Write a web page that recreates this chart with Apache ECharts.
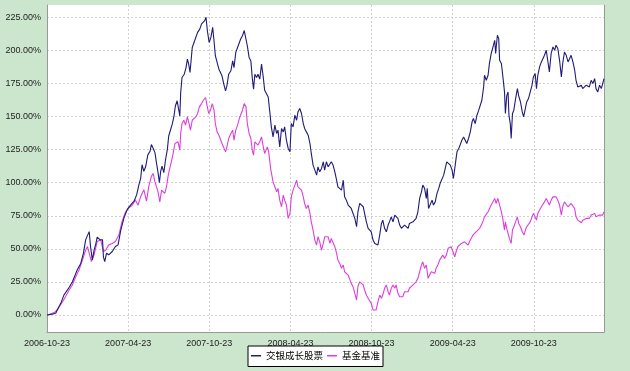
<!DOCTYPE html>
<html>
<head>
<meta charset="utf-8">
<script src="https://cdn.jsdelivr.net/npm/echarts@6/dist/echarts.min.js"></script>
<style>
html,body{margin:0;padding:0;background:#cce6cd;}
#chart{width:630px;height:371px;}
</style>
</head>
<body>
<div id="chart"></div>
<script>
// ---- data (x = days since start date, y = cumulative return in %) ----
const startDate = '2006-10-23';
const xTickLabels = ['2006-10-23','2007-04-23','2007-10-23','2008-04-23','2008-10-23','2009-04-23','2009-10-23'];
const seriesNames = ['交银成长股票','基金基准'];

const fundDays = [
0,8,14,20,23,31,38,42,50,57,65,68,76,82,87,91,95,98,102,106,110,113,119,125,127,130,134,139,147,154,160,166,173,181,188,196,202,207,211,214,218,222,227,232,235,239,
243,247,250,253,256,259,263,267,271,274,278,282,286,289,293,297,299,301,304,309,313,316,319,322,327,331,335,339,344,348,352,355,358,361,365,369,373,376,379,384,387,391,394,398,402,405,409,414,418,421,425,429,433,436,440,444,448,451,455,459,462,465,468,472,475,479,483,487,
490,498,502,505,509,513,517,520,524,528,532,535,539,543,547,550,554,558,562,565,569,573,577,580,584,588,592,595,599,603,607,610,614,618,622,625,629,633,637,640,644,648,652,655,659,663,667,670,674,678,682,685,689,693,697,700,704,708,712,715,719,723,727,730,734,738,
741,745,749,753,756,760,764,768,771,775,779,783,786,790,794,798,801,805,809,813,816,820,824,828,831,835,839,843,846,850,854,856,859,863,867,870,874,878,882,885,889,893,897,900,904,908,912,915,919,923,927,930,934,938,942,945,949,953,957,960,964,968,972,975,979,983,
985,989,993,996,1000,1004,1008,1010,1014,1017,1019,1023,1026,1030,1032,1035,1038,1040,1043,1045,1048,1051,1055,1059,1062,1066,1070,1073,1077,1080,1084,1088,1092,1095,1099,1102,1105,1109,1113,1116,1120,1124,1128,1131,1135,1139,1143,1146,1150,1154,1158,1161,1165,1169,1173,1176,1180,1184,1188,1191,1195,1199,1203,1206,1210,1214,1218,1221,1225,1229,1233,1236,1240,1244,1248,1251,1254
];
const fundValues = [
0,0.5,0.8,1.5,3.8,8.8,15,14,21,25,31.5,34,39,46.7,56.8,60,63,51.8,41.7,49,54,58.8,57,56.8,44,40.4,46.7,45.5,48,51.8,53,64,73,80,83,86,91,98.5,103.5,113.6,108.6,112,121,123.7,128.8,126,
122.7,113.9,107.6,100,108.8,112.6,107.6,117.7,125.2,135.3,134,144.2,150.5,158,161.9,160.6,150.5,168.2,179.5,182,187,193.4,189.6,183.3,202.2,206,207.3,213.6,216.1,220,221.2,222.5,225,215,206,209.8,217.4,207.3,196,189.6,185.8,187,180.8,174.5,169.4,173.2,182,184.6,192,187,198.5,202.2,203.5,208.6,211,215,213.7,203.5,194.7,192,179.5,170.7,182,179.5,182,178.3,189.6,179.5,
169.9,164.8,152.3,142.2,134.6,143.5,137.2,139.7,127.1,141,138.4,142.2,132.1,125.9,123.3,144.7,142.2,151,147.2,153.5,156.1,152.3,144.7,141,138.4,135.9,129.6,122.1,113.3,109.5,105.7,112,108.2,110.8,115.8,109.5,115.8,112,113.3,115.8,113.3,108.2,101.9,96.9,98.2,94.4,101.9,89.3,86.8,83.1,84.3,80.5,79.3,73,66.7,78,84.3,85.5,81.8,76.8,70.4,65.5,66.7,62.9,56.6,54.1,
54.1,52.9,60.4,69.2,71.7,65.5,62.9,68,70.4,74.2,70.4,75.5,75.5,73,68,65.5,64.2,68,69.2,65.5,69.2,70.4,70.4,71.7,73,78,88.1,93.1,98.2,95.7,88.1,95.7,80.5,81.8,86.8,83.1,85.5,91.9,95.7,99.4,100.6,105.7,104.4,115.8,117,113.3,109.5,103.2,113.3,123.3,125.9,128.4,132.1,134.6,135.9,129.6,133.4,138.4,146,148.5,144.7,151,154.8,156.1,162.3,172.4,
181.2,177.4,181.2,190,197.6,196.3,207.6,197.6,211.4,208.9,192.5,190,181.2,168.6,152.3,165.6,168.6,151,144.7,133.4,152.3,154.8,163.6,171.1,165.6,161,153.5,149.7,156.1,161,163.6,168.6,173.7,179.9,182.5,171.1,181.2,187.5,191.3,190,196.3,200.1,198.8,183.7,197.6,202.6,200.1,203.9,201.4,192.5,179.9,190,198.8,196.3,191.3,190,196.3,191.3,185,177.4,172.4,171.1,173.7,171.1,172.4,173.7,175,172.4,177.4,175,178.7,171.1,168.6,173.7,171.1,169.9,178.7
];

const benchDays = [
0,8,16,23,35,42,50,57,65,72,80,87,91,95,100,106,113,121,127,132,139,147,154,162,169,177,184,192,199,205,211,218,224,229,235,239,
243,247,250,254,258,262,265,269,273,277,280,284,288,292,295,299,301,304,308,312,316,319,323,327,331,335,339,343,348,352,357,361,364,368,372,376,379,383,387,391,394,398,402,405,409,414,418,421,425,429,433,436,440,444,448,451,455,459,462,465,468,472,475,479,483,487,
490,496,499,504,509,513,517,520,524,528,532,535,539,543,547,550,554,558,562,565,569,573,577,580,584,588,592,595,599,603,607,610,614,618,622,625,629,633,637,640,644,648,652,655,659,663,667,670,674,678,682,685,689,693,697,700,704,708,712,715,719,723,727,730,734,738,
741,745,749,753,756,760,764,768,771,775,779,783,786,790,794,798,801,805,809,813,816,820,824,828,831,835,839,843,846,850,854,858,861,865,869,873,876,880,884,888,891,895,899,903,906,910,914,918,921,925,929,933,936,940,944,948,951,955,959,963,966,970,974,978,981,
985,989,993,996,1000,1004,1008,1011,1015,1019,1023,1026,1030,1032,1035,1038,1041,1045,1048,1051,1055,1059,1062,1066,1070,1074,1077,1080,1084,1088,1092,1095,1099,1102,1105,1109,1113,1116,1120,1124,1128,1131,1135,1139,1143,1146,1150,1154,1158,1161,1165,1169,1173,1176,1180,1184,1188,1191,1195,1199,1203,1206,1210,1214,1218,1221,1225,1229,1233,1236,1240,1244,1248,1251,1254
];
const benchValues = [
0,0.8,1.8,3.8,10,14,19,22.7,29,34,41.7,49,51.8,46.7,40.4,45.5,55.5,56.8,48,49,53,54,55.5,60.6,70.7,78,80.8,83,87,83,89.6,94.7,86,97,104.8,107,
100.6,99.4,93.1,85.5,94.4,93.1,91.9,96.9,105.7,112,115.8,122.1,129.6,128.4,130.9,124.6,137.2,144.7,147.2,143.5,149.7,146,139.7,147.2,148.5,149.7,152.3,157.3,159.8,162.3,164.4,157.3,152.3,154.8,159.8,154.8,144.7,138.4,135.9,137.2,129.6,128.4,123.3,127.1,133.4,137.2,139.7,132.1,139.7,143.5,148.5,149.7,154.8,159.8,157.3,144.7,137.2,133.4,124.6,120.8,130.9,129.6,128.4,130.9,134.6,127.1,
122.1,127.1,123.3,109.5,100.6,96.9,93.1,95.7,86.8,81.8,90.6,86.8,83.1,73,76.8,89.3,94.4,98.2,101.9,96.9,98.2,94.4,89.3,84.3,80.5,83.1,76.8,70.4,64.2,56.6,52.9,59.1,55.3,49.1,54.1,59.1,57.9,59.1,54.1,57.9,56.6,51.6,46.6,41.5,39,35.3,37.8,32.7,34,30.2,28.9,23.9,21.4,16.4,11.3,21.4,25.1,26.4,22.7,18.9,15.1,12.6,13.8,8.8,3.8,2.5,
3.8,10,15.1,12.6,15.1,20.2,22.7,17.6,15.1,20.2,22.7,20.2,22.7,16.4,13.8,12.6,13.8,17.6,16.4,17.6,20.2,21.4,22.7,22.7,25.1,27.7,32.7,37.8,40.2,35.3,37.8,27.7,28.9,32.7,31.5,31.5,35.3,37.8,41.5,41.5,45.3,42.8,45.3,50.4,49.1,51.6,47.8,44,47.8,51.6,52.9,54.1,52.9,55.3,54.1,52.9,55.3,57.9,60.4,59.1,62.9,61.7,65.5,68,70.4,
74.2,75.5,78,79.3,83.1,84.3,88.1,84.3,88.1,83.1,78,73,64.2,70.4,65.5,66.7,57.9,54.1,64.2,66.7,70.4,74.2,69.2,66.7,62.9,60.4,64.2,66.7,68,70.4,74.2,76.8,78,71.7,76.8,79.3,81.8,80.5,85.5,88.1,86.8,83.1,86.8,89.3,88.1,89.3,86.8,83.1,75.5,81.8,85.5,84.3,81.8,83.1,84.3,83.1,80.5,74.2,71.7,70.4,69.7,71.7,70.4,73,74.2,73,75.5,74.2,76.8,74.2,73,75.5,76.8,75.5,78
];

// ---- chart ----
const DAY_MAX = 1254;
const X_INTERVAL = 1096 / 6;
const Y_MIN = -12.85, Y_MAX = 234.3;
const pair = (xs, ys) => xs.map((x, i) => [x, ys[i]]);
const labelFont = 'Liberation Sans, Arial, sans-serif';
const gridLine = { show: true, lineStyle: { color: '#cfcfcf', type: [2, 2], width: 1 } };
const borderLine = { show: true, onZero: false, lineStyle: { color: '#999', width: 1 } };

const chart = echarts.init(document.getElementById('chart'), null, { renderer: 'canvas' });
chart.setOption({
  backgroundColor: '#cce6cd',
  animation: false,
  grid: [
    { left: 47, right: 26, top: 5, bottom: 39, show: true, backgroundColor: '#ffffff', borderWidth: 0 },
    { left: 47, right: 26, top: 17.3, bottom: 56, show: false }
  ],
  legend: {
    data: seriesNames,
    left: 248, top: 346,
    orient: 'horizontal',
    backgroundColor: '#ffffff',
    borderColor: '#000000', borderWidth: 1, borderRadius: 0,
    padding: [5, 3, 6, 3],
    itemGap: 4, itemWidth: 10, itemHeight: 1.5,
    icon: 'rect',
    textStyle: { fontFamily: 'Noto Sans CJK SC', fontSize: 9.5, color: '#000' }
  },
  xAxis: [
    {
      type: 'value', gridIndex: 0, min: 0, max: DAY_MAX, interval: X_INTERVAL,
      axisLine: borderLine,
      axisTick: { show: false },
      splitLine: gridLine,
      axisLabel: {
        margin: 7, fontSize: 9, color: '#222', fontFamily: labelFont,
        showMaxLabel: false,
        formatter: function (v) {
          const idx = Math.round(v / X_INTERVAL);
          if (Math.abs(v - idx * X_INTERVAL) > 1) return '';
          return xTickLabels[idx] || '';
        }
      }
    },
    { type: 'value', gridIndex: 1, min: 0, max: DAY_MAX, show: false }
  ],
  yAxis: [
    {
      type: 'value', gridIndex: 0, min: Y_MIN, max: Y_MAX,
      axisLine: borderLine,
      axisTick: { show: false }, axisLabel: { show: false }, splitLine: { show: false }
    },
    {
      type: 'value', gridIndex: 0, position: 'right', min: Y_MIN, max: Y_MAX,
      axisLine: borderLine,
      axisTick: { show: false }, axisLabel: { show: false }, splitLine: { show: false }
    },
    {
      type: 'value', gridIndex: 1, min: 0, max: 225, interval: 25,
      axisLine: { show: false }, axisTick: { show: false },
      splitLine: gridLine,
      axisLabel: {
        margin: 6, fontSize: 9, color: '#222', fontFamily: labelFont,
        formatter: v => v.toFixed(2) + '%'
      }
    }
  ],
  series: [
    {
      name: seriesNames[1], type: 'line', xAxisIndex: 0, yAxisIndex: 0,
      data: pair(benchDays, benchValues),
      showSymbol: false, symbol: 'none',
      lineStyle: { color: '#dd3fdd', width: 1.1 }, itemStyle: { color: '#dd3fdd' }
    },
    {
      name: seriesNames[0], type: 'line', xAxisIndex: 0, yAxisIndex: 0,
      data: pair(fundDays, fundValues),
      showSymbol: false, symbol: 'none',
      lineStyle: { color: '#1f1b78', width: 1.1 }, itemStyle: { color: '#1f1b78' }
    }
  ]
});
</script>
</body>
</html>
